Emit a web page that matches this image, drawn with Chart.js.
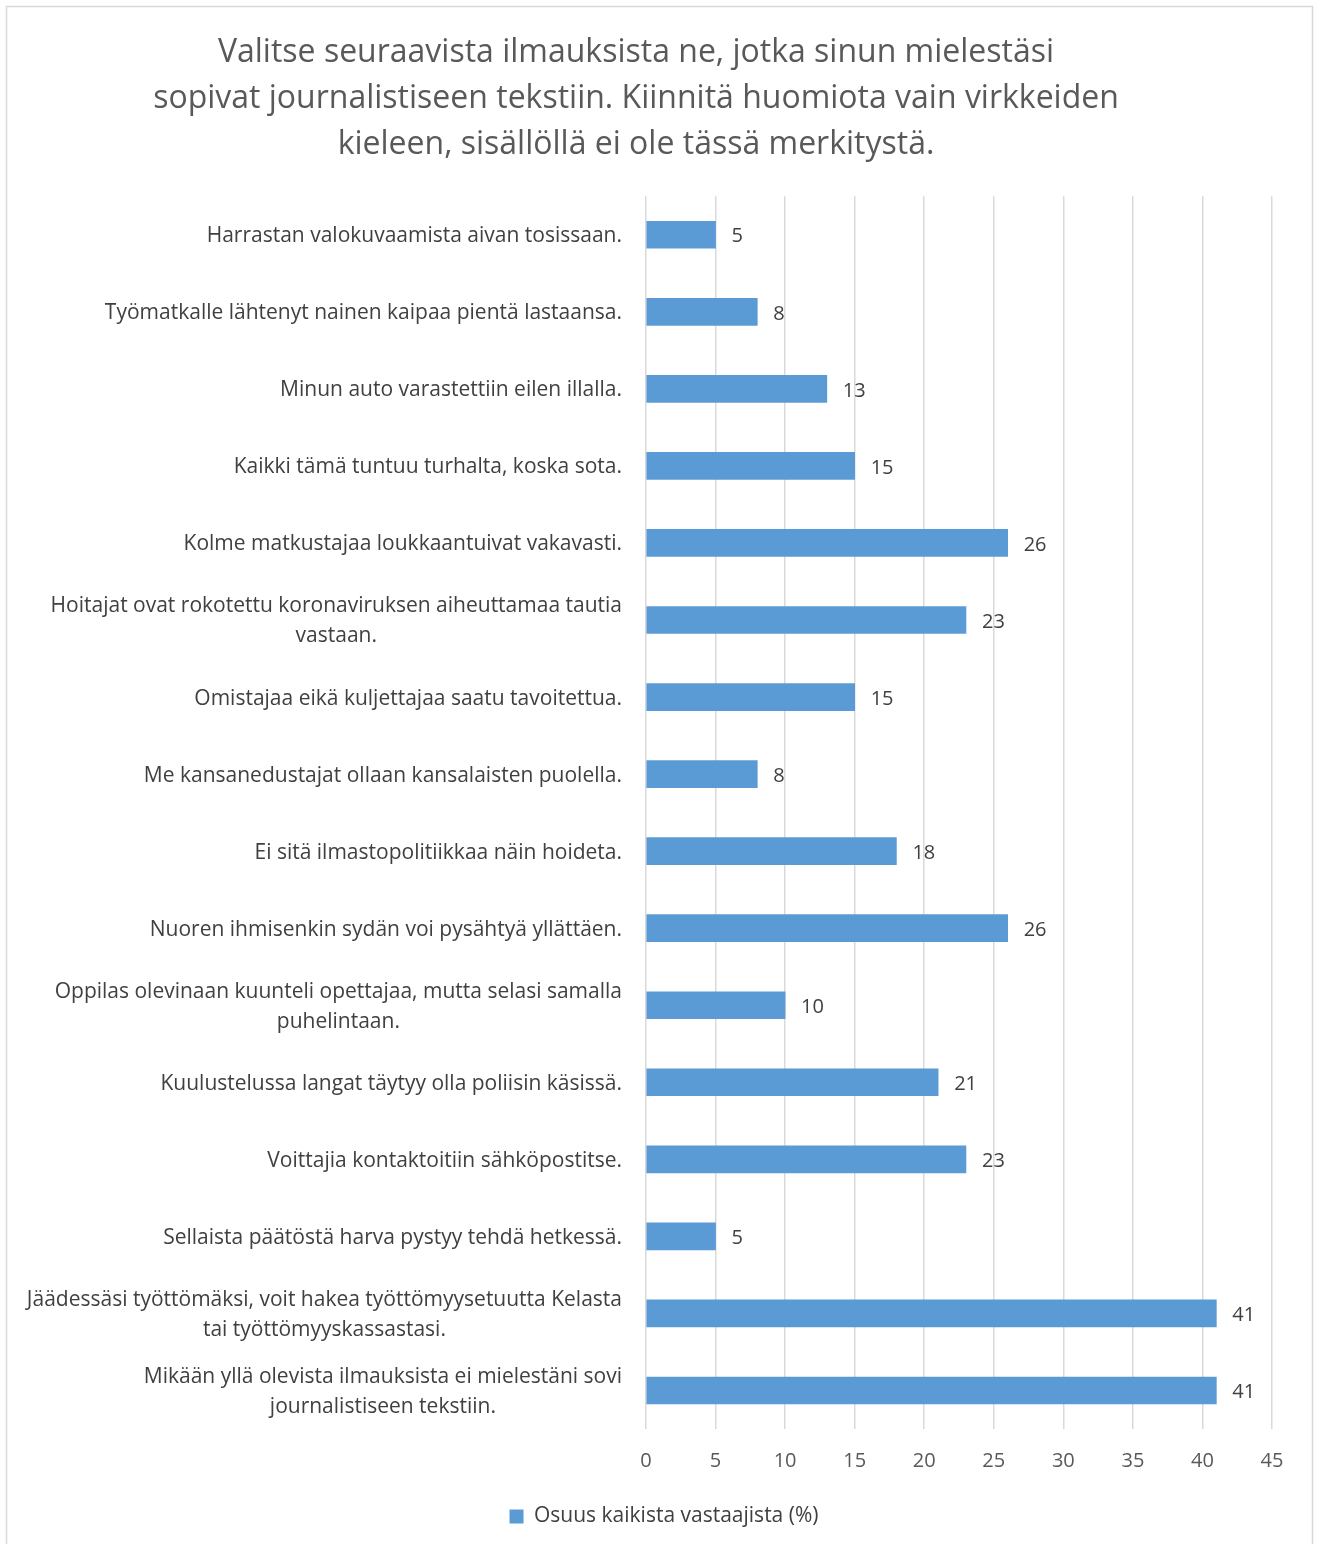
<!DOCTYPE html>
<html>
<head>
<meta charset="utf-8">
<script src="https://cdn.jsdelivr.net/npm/chart.js@4.4.1/dist/chart.umd.min.js"></script>
<style>
  html, body { margin:0; padding:0; background:#fff; }
  #wrap { position:relative; width:1317px; height:1544px; }
</style>
</head>
<body>
<div id="wrap"><canvas id="chart" width="1317" height="1544"></canvas></div>
<script>
// Data
const titleLines = [
  'Valitse seuraavista ilmauksista ne, jotka sinun mielestäsi',
  'sopivat journalistiseen tekstiin. Kiinnitä huomiota vain virkkeiden',
  'kieleen, sisällöllä ei ole tässä merkitystä.'
];
const categories = [
  ['Harrastan valokuvaamista aivan tosissaan.'],
  ['Työmatkalle lähtenyt nainen kaipaa pientä lastaansa.'],
  ['Minun auto varastettiin eilen illalla.'],
  ['Kaikki tämä tuntuu turhalta, koska sota.'],
  ['Kolme matkustajaa loukkaantuivat vakavasti.'],
  ['Hoitajat ovat rokotettu koronaviruksen aiheuttamaa tautia', 'vastaan.'],
  ['Omistajaa eikä kuljettajaa saatu tavoitettua.'],
  ['Me kansanedustajat ollaan kansalaisten puolella.'],
  ['Ei sitä ilmastopolitiikkaa näin hoideta.'],
  ['Nuoren ihmisenkin sydän voi pysähtyä yllättäen.'],
  ['Oppilas olevinaan kuunteli opettajaa, mutta selasi samalla', 'puhelintaan.'],
  ['Kuulustelussa langat täytyy olla poliisin käsissä.'],
  ['Voittajia kontaktoitiin sähköpostitse.'],
  ['Sellaista päätöstä harva pystyy tehdä hetkessä.'],
  ['Jäädessäsi työttömäksi, voit hakea työttömyysetuutta Kelasta', 'tai työttömyyskassastasi.'],
  ['Mikään yllä olevista ilmauksista ei mielestäni sovi', 'journalistiseen tekstiin.']
];
const shares = [5, 8, 13, 15, 26, 23, 15, 8, 18, 26, 10, 21, 23, 5, 41, 41];
const seriesName = 'Osuus kaikista vastaajista (%)';
const xMin = 0, xMax = 45, xStep = 5;

const FONT = '"Open Sans", Lato, sans-serif';
const barColor = '#5b9bd5';

// outer frame
const framePlugin = {
  id:'frame',
  beforeDraw(chart){
    const c = chart.ctx;
    c.save();
    c.fillStyle = '#fff';
    c.fillRect(0,0,chart.width,chart.height);
    c.strokeStyle = '#d9d9d9';
    c.lineWidth = 1.5;
    c.strokeRect(6.5, 6.5, 1306, 1560);
    c.restore();
  }
};

// legend is centred on the whole picture, not on the padded area
const legendShift = {
  id:'legendShift',
  afterLayout(chart){
    const lg = chart.legend;
    lg.left += 28; lg.right += 28;
    lg.top += 3; lg.bottom += 3;
  }
};

// category labels: block right aligned, lines centred within the block
const catLabelPlugin = {
  id:'catLabels',
  afterDraw(chart){
    const c = chart.ctx, y = chart.scales.y;
    c.save();
    c.font = '21px ' + FONT;
    c.fillStyle = '#404040';
    c.textAlign = 'center';
    c.textBaseline = 'middle';
    const right = 622, lh = 30;
    categories.forEach((lines, i) => {
      const cy = y.getPixelForValue(i) + 1.5;
      const w = Math.max(...lines.map(l => c.measureText(l).width));
      const cx = right - w/2;
      const y0 = cy - (lines.length-1)*lh/2;
      lines.forEach((l, k) => c.fillText(l, cx, y0 + k*lh));
    });
    c.restore();
  }
};

// value labels right of each bar
const valueLabelPlugin = {
  id:'valueLabels',
  afterDatasetsDraw(chart){
    const c = chart.ctx;
    const meta = chart.getDatasetMeta(0);
    c.save();
    c.font = '20px ' + FONT;
    c.fillStyle = '#404040';
    c.textAlign = 'left';
    c.textBaseline = 'middle';
    meta.data.forEach((bar, i) => {
      c.fillText(String(shares[i]), bar.x + 16, bar.y + 2);
    });
    c.restore();
  }
};

new Chart(document.getElementById('chart'), {
  type:'bar',
  data:{
    labels: categories,
    datasets:[{
      label: seriesName,
      data: shares,
      backgroundColor: barColor,
      borderWidth: 0,
      barThickness: 27
    }]
  },
  options:{
    indexAxis:'y',
    responsive:false,
    animation:false,
    layout:{ padding:{ left:0, right:45, top:0, bottom:10 } },
    plugins:{
      title:{
        display:true,
        text: titleLines,
        color:'#595959',
        font:{ family:FONT, size:32, weight:'normal', lineHeight:1.44 },
        padding:{ top:30, bottom:28 }
      },
      legend:{
        position:'bottom',
        labels:{
          color:'#404040',
          font:{ family:FONT, size:21 },
          boxWidth:14, boxHeight:14,
          padding:10
        }
      },
      tooltip:{ enabled:false }
    },
    scales:{
      x:{
        min:xMin, max:xMax,
        ticks:{ stepSize:xStep, color:'#595959', font:{ family:FONT, size:20 }, padding:20 },
        grid:{ color:'#d9d9d9', lineWidth:1.5, drawTicks:false },
        border:{ display:false },
        afterFit(s){ s.height = 64; }
      },
      y:{
        ticks:{ display:false },
        grid:{ display:false },
        border:{ display:false },
        afterFit(s){ s.width = 646; }
      }
    }
  },
  plugins:[framePlugin, legendShift, catLabelPlugin, valueLabelPlugin]
});
</script>
</body>
</html>
